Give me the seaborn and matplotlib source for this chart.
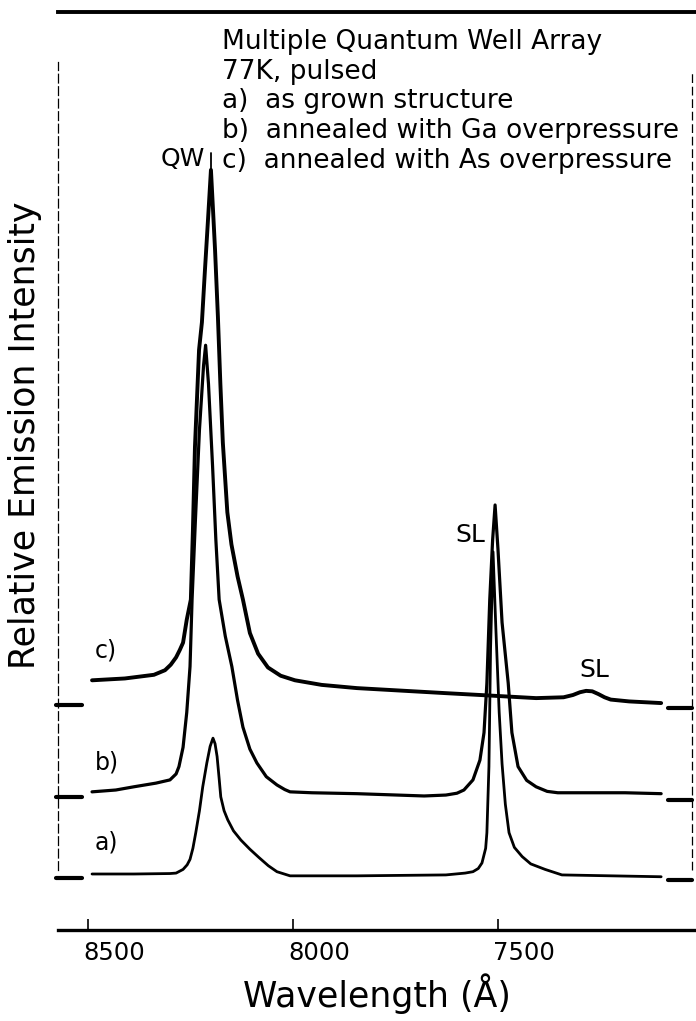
import numpy as np
import pandas as pd
import matplotlib
matplotlib.use("Agg")
import matplotlib.pyplot as plt
import matplotlib.transforms as mtransforms
import seaborn as sns

sns.set_theme(style="white")
plt.rcParams['font.family'] = ['DejaVu Sans']

# ---------------- data ----------------
sample_labels = ["a)", "b)", "c)"]
zero_offsets = [5.7, 14.5, 24.5]          # zero level of each stacked spectrum

wl_a = [8490, 8388, 8300, 8285, 8268, 8258, 8251, 8244, 8237, 8228, 8220, 8210, 8202, 8195,
        8190, 8185, 8180, 8176, 8168, 8159, 8145, 8127, 8105, 8083, 8060, 8039, 8007,
        7844, 7627, 7580, 7561, 7548, 7539, 7530, 7527, 7522, 7518, 7512, 7505, 7497,
        7490, 7482, 7473, 7460, 7441, 7420, 7385, 7344, 7102]
int_a = [0.4, 0.4, 0.45, 0.5, 0.9, 1.4, 2.0, 3.2, 4.9, 7.3, 9.9, 12.5, 14.3, 15.2,
         14.6, 13.2, 10.8, 8.8, 7.3, 6.3, 5.1, 4.1, 3.1, 2.2, 1.3, 0.65, 0.2,
         0.2, 0.3, 0.5, 0.65, 1.0, 1.6, 3.2, 4.9, 12.1, 25.0, 35.5, 27.0, 18.0,
         12.4, 8.0, 4.9, 3.3, 2.3, 1.5, 0.9, 0.3, 0.1]

wl_b = [8490, 8432, 8388, 8334, 8300, 8285, 8278, 8268, 8259, 8251, 8246, 8238, 8228,
        8218, 8213, 8206, 8196, 8188, 8180, 8165, 8149, 8135, 8122, 8105, 8088, 8065,
        8039, 8020, 8007, 7954, 7844, 7680, 7627, 7600, 7583, 7561, 7544, 7534, 7527,
        7520, 7513, 7507, 7500, 7490, 7475, 7466, 7451, 7430, 7407, 7380, 7354, 7190, 7102]
int_b = [0.55, 0.75, 1.1, 1.5, 1.85, 2.5, 3.3, 5.4, 9.2, 14.2, 21.5, 30.0, 40.0,
         47.0, 49.2, 45.0, 36.0, 28.0, 21.5, 17.5, 14.2, 10.5, 7.6, 5.2, 3.7, 2.2,
         1.3, 0.8, 0.55, 0.45, 0.35, 0.1, 0.2, 0.4, 0.75, 1.85, 4.0, 7.0, 12.4,
         21.5, 28.0, 31.8, 27.0, 19.0, 12.4, 7.0, 3.3, 1.8, 1.1, 0.6, 0.45, 0.45, 0.35]

wl_c = [8490, 8410, 8339, 8312, 8298, 8285, 8276, 8268, 8259, 8249, 8244, 8239, 8229,
        8222, 8215, 8207, 8200, 8195, 8190, 8183, 8177, 8171, 8160, 8150, 8135, 8122,
        8105, 8085, 8061, 8030, 7995, 7930, 7844, 7627, 7544, 7407, 7340, 7317, 7300,
        7285, 7270, 7255, 7240, 7225, 7180, 7102]
int_c = [2.7, 2.9, 3.3, 3.8, 4.4, 5.2, 6.0, 6.8, 9.3, 11.5, 19.0, 28.1, 38.7,
         41.7, 47.1, 53.0, 58.3, 54.0, 49.6, 42.3, 35.0, 28.6, 21.0, 17.5, 14.0, 11.5,
         7.85, 5.6, 4.1, 3.2, 2.7, 2.2, 1.85, 1.3, 1.1, 0.76, 0.85, 1.1, 1.4,
         1.55, 1.5, 1.2, 0.85, 0.6, 0.4, 0.22]

legend_lines = ["Multiple Quantum Well Array", "77K, pulsed", "a)  as grown structure",
                "b)  annealed with Ga overpressure", "c)  annealed with As overpressure"]
xticks = [8500, 8000, 7500]
xlim = (8573, 7017)
ylim = (0, 100)
frame_wl_right = 7027

# ---------------- figure ----------------
W, H = 696, 1021
fig = plt.figure(figsize=(W / 100, H / 100), dpi=100)
ax_l, ax_r, ax_t, ax_b = 58, 696, 12, 930
ax = fig.add_axes([ax_l / W, 1 - ax_b / H, (ax_r - ax_l) / W, (ax_b - ax_t) / H])

frames = []
for lab, off, wl, it in zip(sample_labels, zero_offsets, [wl_a, wl_b, wl_c], [int_a, int_b, int_c]):
    frames.append(pd.DataFrame({"wavelength": wl,
                                "intensity": np.asarray(it) + off,
                                "sample": lab}))
df = pd.concat(frames, ignore_index=True)

widths = {"a)": 2.0, "b)": 2.3, "c)": 2.8}
for lab in sample_labels:
    sns.lineplot(data=df[df["sample"] == lab], x="wavelength", y="intensity",
                 sort=False, estimator=None, color="black", lw=widths[lab], ax=ax,
                 legend=False)
for line in ax.get_lines():
    line.set_solid_joinstyle("round")

ax.set_xlim(*xlim)
ax.set_ylim(*ylim)
ax.set_xticks(xticks)
ax.set_xticklabels([str(t) for t in xticks])
ax.set_yticks([])
ax.grid(False)

# spines
for s in ["top", "bottom"]:
    ax.spines[s].set_visible(True)
    ax.spines[s].set_color("black")
ax.spines["bottom"].set_linewidth(2.4)
ax.spines["top"].set_linewidth(2.8)
ax.spines["left"].set_color("black")
ax.spines["left"].set_linewidth(0.9)
ax.spines["left"].set_linestyle((0, (7, 3)))
ax.spines["left"].set_bounds(6.5, 94.5)
ax.spines["right"].set_visible(False)
ax.plot([frame_wl_right, frame_wl_right], [6.5, 93.5], color="black", lw=0.9,
        ls=(0, (7, 3)))

ax.tick_params(axis="x", direction="in", length=8, width=1.2, pad=8,
               labelsize=17.5, colors="black", bottom=True)
off_tr = mtransforms.ScaledTranslation(-0.05, 0, fig.dpi_scale_trans)
for t in ax.get_xticklabels():
    t.set_ha("left")
    t.set_transform(t.get_transform() + off_tr)

ax.set_xlabel("Wavelength (Å)", fontsize=25, labelpad=6, color="black")
ax.set_ylabel("Relative Emission Intensity", fontsize=25, color="black")
ax.yaxis.label.set_va("center")
ax.yaxis.set_label_coords((25 - ax_l) / (ax_r - ax_l), (ax_b - 435) / (ax_b - ax_t))

# zero-level markers on both sides
blend = mtransforms.blended_transform_factory(ax.transAxes, ax.transData)
for off in zero_offsets:
    ax.plot([(56 - ax_l) / (ax_r - ax_l), (82 - ax_l) / (ax_r - ax_l)], [off, off],
            color="black", lw=3, transform=blend, clip_on=False, solid_capstyle="round")
    ax.plot([(668 - ax_l) / (ax_r - ax_l), (692 - ax_l) / (ax_r - ax_l)], [off - 0.3, off - 0.3],
            color="black", lw=3, transform=blend, clip_on=False, solid_capstyle="round")

# curve labels
for lab, off in zip(sample_labels, zero_offsets):
    base = off + (2.7 if lab == "c)" else 0.6)
    ax.text((95 - ax_l) / (ax_r - ax_l), base + 3.2, lab, transform=blend,
            fontsize=17, ha="left", va="center", color="black")

# peak annotations
pk = int(np.argmax(int_c))
ax.plot([wl_c[pk], wl_c[pk]], [int_c[pk] + zero_offsets[2], int_c[pk] + zero_offsets[2] + 1.8],
        color="black", lw=1.3)
ax.text(wl_c[pk] + 15, int_c[pk] + zero_offsets[2] + 1.2, "QW", fontsize=18,
        ha="right", va="center", color="black")
ax.text(7530, 43.0, "SL", fontsize=18, ha="right", va="center", color="black")
ax.text(7266, 28.3, "SL", fontsize=18, ha="center", va="center", color="black")

# legend block
legend_y = [42, 72, 101, 131, 161]
for txt, yy in zip(legend_lines, legend_y):
    fig.text(222 / W, 1 - yy / H, txt, fontsize=19, ha="left", va="center", color="black")

fig.savefig("out.png", dpi=100, facecolor="white")
